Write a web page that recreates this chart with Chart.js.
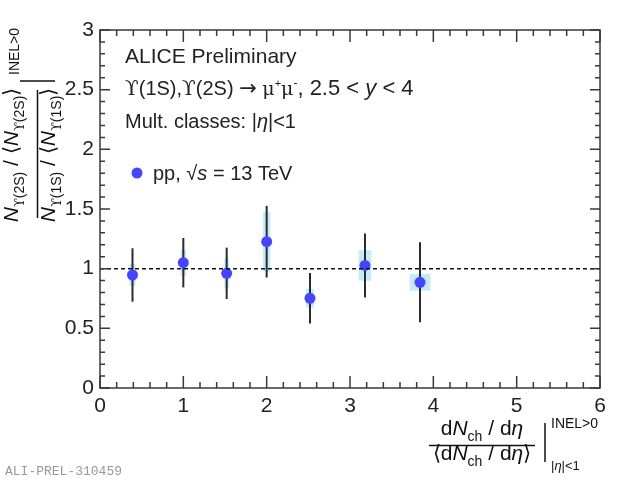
<!DOCTYPE html>
<html>
<head>
<meta charset="utf-8">
<script src="https://cdn.jsdelivr.net/npm/chart.js@4/dist/chart.umd.min.js"></script>
<style>
  html, body { margin: 0; padding: 0; background: #fff; }
  #wrap { width: 620px; height: 480px; }
</style>
</head>
<body>
<div id="wrap"><canvas id="chart" width="620" height="480"></canvas></div>
<script>
// --- data ---
const xVals = [0.39, 1.0, 1.52, 2.0, 2.52, 3.18, 3.84];
const yVals = [0.947, 1.05, 0.961, 1.226, 0.752, 1.027, 0.886];
const statErr = [0.224, 0.207, 0.215, 0.30, 0.212, 0.268, 0.335];
const systErr = [0.091, 0.109, 0.128, 0.25, 0.078, 0.128, 0.07];
const systXErr = [0.036, 0.032, 0.028, 0.044, 0.048, 0.076, 0.124];
const refX = [0, 6];
const refY = [1, 1];
const xTickLabels = ['0', '1', '2', '3', '4', '5', '6'];
const yTickLabels = ['0', '0.5', '1', '1.5', '2', '2.5', '3'];

const FONT = '"Liberation Sans", Arial, Helvetica, sans-serif';
const SERIF = '"DejaVu Serif", "Liberation Serif", serif';
const f = (size, style) => (style ? style + ' ' : '') + size + 'px ' + FONT;
const fs = size => size + 'px ' + SERIF;

// draw a run of [text, font, dy] pieces, returns end x
function drawRich(ctx, segs, x, y) {
    segs.forEach(s => {
        ctx.font = s[1];
        ctx.fillText(s[0], x, y + (s[2] || 0));
        x += ctx.measureText(s[0]).width;
    });
    return x;
}
function richWidth(ctx, segs) {
    let w = 0;
    segs.forEach(s => { ctx.font = s[1]; w += ctx.measureText(s[0]).width; });
    return w;
}

// syst boxes + stat bars under the markers
const errorBars = {
    id: 'errorBars',
    beforeDatasetsDraw(chart) {
        const { ctx, scales: { x, y } } = chart;
        ctx.save();
        ctx.fillStyle = '#c4eafb';
        xVals.forEach((xv, i) => {
            const l = x.getPixelForValue(xv - systXErr[i]);
            const r = x.getPixelForValue(xv + systXErr[i]);
            const t = y.getPixelForValue(yVals[i] + systErr[i]);
            const b = y.getPixelForValue(yVals[i] - systErr[i]);
            ctx.fillRect(l, t, r - l, b - t);
        });
        ctx.strokeStyle = '#2b2b2b';
        ctx.lineWidth = 2;
        xVals.forEach((xv, i) => {
            const px = x.getPixelForValue(xv);
            ctx.beginPath();
            ctx.moveTo(px, y.getPixelForValue(yVals[i] + statErr[i]));
            ctx.lineTo(px, y.getPixelForValue(yVals[i] - statErr[i]));
            ctx.stroke();
        });
        ctx.restore();
    }
};

// ROOT-like frame, inward ticks, labels and texts
const rootFrame = {
    id: 'rootFrame',
    afterDraw(chart) {
        const { ctx, chartArea: a, scales: { x, y } } = chart;
        ctx.save();
        ctx.strokeStyle = '#3a3a3a';
        ctx.lineWidth = 1.5;
        ctx.strokeRect(a.left, a.top, a.right - a.left, a.bottom - a.top);

        // x ticks (bottom + top)
        ctx.beginPath();
        for (let i = 0; i <= 30; i++) {
            const px = x.getPixelForValue(i * 0.2);
            const len = i % 5 === 0 ? 12 : 6;
            ctx.moveTo(px, a.bottom); ctx.lineTo(px, a.bottom - len);
            ctx.moveTo(px, a.top); ctx.lineTo(px, a.top + len);
        }
        // y ticks (left + right)
        for (let i = 0; i <= 30; i++) {
            const py = y.getPixelForValue(i * 0.1);
            const len = i % 5 === 0 ? 10 : 5;
            ctx.moveTo(a.left, py); ctx.lineTo(a.left + len, py);
            ctx.moveTo(a.right, py); ctx.lineTo(a.right - len, py);
        }
        ctx.stroke();

        // tick labels
        ctx.fillStyle = '#222';
        ctx.font = f(21);
        ctx.textAlign = 'center';
        ctx.textBaseline = 'alphabetic';
        xTickLabels.forEach(t => ctx.fillText(t, x.getPixelForValue(+t), a.bottom + 24));
        ctx.textAlign = 'right';
        ctx.textBaseline = 'middle';
        yTickLabels.forEach(t => ctx.fillText(t, a.left - 6, y.getPixelForValue(+t)));

        ctx.textAlign = 'left';
        ctx.textBaseline = 'alphabetic';
        ctx.fillStyle = '#111';

        // x title
        const numX = [['d', f(21)], ['N', f(21, 'italic')], ['ch', f(14), 6], [' / d', f(21)], ['η', f(21, 'italic')]];
        const denX = [['⟨d', f(21)], ['N', f(21, 'italic')], ['ch', f(14), 6], [' / d', f(21)], ['η', f(21, 'italic')], ['⟩', f(21)]];
        const cxT = 482;
        drawRich(ctx, numX, cxT - richWidth(ctx, numX) / 2, 435);
        drawRich(ctx, denX, cxT - richWidth(ctx, denX) / 2, 460);
        ctx.lineWidth = 1.5;
        ctx.strokeStyle = '#111';
        ctx.beginPath();
        ctx.moveTo(429, 445.5); ctx.lineTo(535, 445.5);
        ctx.moveTo(545, 423); ctx.lineTo(545, 462);
        ctx.stroke();
        drawRich(ctx, [['INEL>0', f(14)]], 551, 428);
        drawRich(ctx, [['|', f(13)], ['η', f(13, 'italic')], ['|<1', f(13)]], 551, 470);

        // y title, rotated
        ctx.save();
        ctx.rotate(-Math.PI / 2);
        const cyT = 155;
        const numY = [['N', f(21, 'italic')], ['ϒ', fs(13), 6], ['(2S)', f(14), 6], [' / ⟨', f(21)],
                      ['N', f(21, 'italic')], ['ϒ', fs(13), 6], ['(2S)', f(14), 6], ['⟩', f(21)]];
        const denY = [['N', f(21, 'italic')], ['ϒ', fs(13), 6], ['(1S)', f(14), 6], [' / ⟨', f(21)],
                      ['N', f(21, 'italic')], ['ϒ', fs(13), 6], ['(1S)', f(14), 6], ['⟩', f(21)]];
        drawRich(ctx, numY, -cyT - richWidth(ctx, numY) / 2, 18);
        drawRich(ctx, denY, -cyT - richWidth(ctx, denY) / 2, 55);
        ctx.beginPath();
        ctx.moveTo(-218, 37.5); ctx.lineTo(-90, 37.5);
        ctx.moveTo(-81, 20); ctx.lineTo(-81, 55);
        ctx.stroke();
        drawRich(ctx, [['INEL>0', f(14)]], -75, 19);
        ctx.restore();

        // labels in the pad
        ctx.fillStyle = '#222';
        drawRich(ctx, [['ALICE Preliminary', f(21)]], 125, 63);
        drawRich(ctx, [['ϒ', fs(20)], ['(1S),', f(20)], ['ϒ', fs(20)], ['(2S) ', f(20)],
                       ['→', '21px "DejaVu Sans", sans-serif'], [' ', f(20)],
                       ['μ', fs(19)], ['+', f(11), -8], ['μ', fs(19)], ['-', f(12), -8],
                       [', 2.5 < ', f(22)], ['y', f(22, 'italic')], [' < 4', f(22)]], 125, 95);
        drawRich(ctx, [['Mult. classes: |', f(20)], ['η', f(20, 'italic')], ['|<1', f(20)]], 125, 128);

        // legend
        ctx.fillStyle = '#4545ff';
        ctx.beginPath();
        ctx.arc(137, 173, 5.5, 0, Math.PI * 2);
        ctx.fill();
        ctx.fillStyle = '#222';
        drawRich(ctx, [['pp, √', f(20)], ['s', f(20, 'italic')], [' = 13 TeV', f(20)]], 153, 180);

        // preliminary id
        ctx.fillStyle = '#999';
        ctx.font = '13px "Liberation Mono", "DejaVu Sans Mono", monospace';
        ctx.fillText('ALI-PREL-310459', 5, 475);
        ctx.restore();
    }
};

new Chart(document.getElementById('chart'), {
    type: 'scatter',
    data: {
        datasets: [
            {
                type: 'line',
                data: refX.map((v, i) => ({ x: v, y: refY[i] })),
                borderColor: '#111',
                borderWidth: 1.5,
                borderDash: [4, 3],
                pointRadius: 0,
                fill: false
            },
            {
                data: xVals.map((v, i) => ({ x: v, y: yVals[i] })),
                backgroundColor: '#4545ff',
                borderColor: '#4545ff',
                pointRadius: 5.5,
                pointBorderWidth: 0
            }
        ]
    },
    options: {
        responsive: false,
        animation: false,
        devicePixelRatio: 1,
        layout: { padding: { left: 100, right: 20, top: 30, bottom: 92 } },
        scales: {
            x: { type: 'linear', min: 0, max: 6, display: false },
            y: { type: 'linear', min: 0, max: 3, display: false }
        },
        plugins: { legend: { display: false }, tooltip: { enabled: false } }
    },
    plugins: [errorBars, rootFrame]
});
</script>
</body>
</html>
